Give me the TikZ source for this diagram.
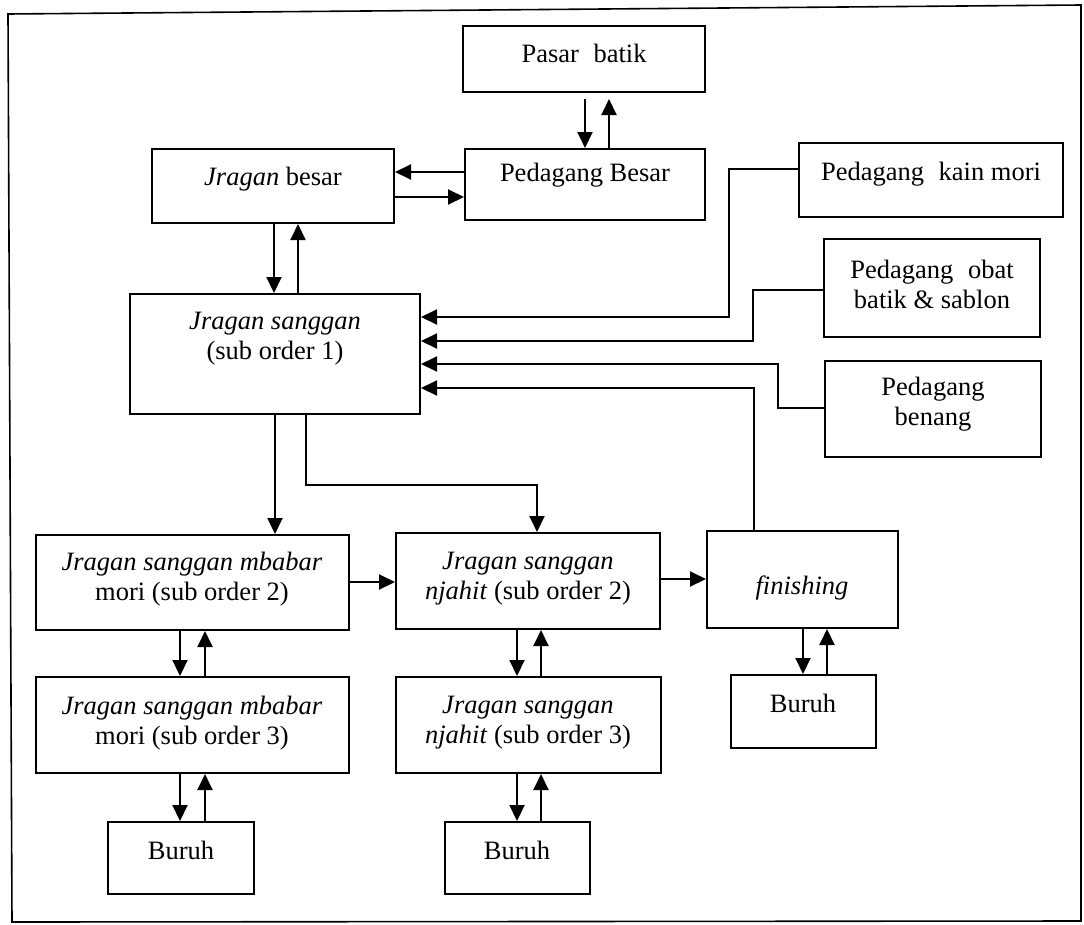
\documentclass[tikz,border=0pt]{standalone}
\usepackage{fontspec}
\setmainfont{Liberation Serif}
\usetikzlibrary{arrows.meta,fit}
\begin{document}
\begin{tikzpicture}[x=1pt,y=-1pt,
  box/.style={draw,line width=2pt,inner sep=0pt},
  txt/.style={align=center,font=\fontsize{26.5}{30}\selectfont,inner sep=0pt},
  arr/.style={line width=2pt,-{Triangle[length=16pt,width=15pt]}},
  ln/.style={line width=2pt}]
\useasboundingbox (0,0) rectangle (1084,924);
% outer frame
\draw[line width=1.6pt] (8,14) -- (1081,5) -- (1081,921) -- (12,922) -- cycle;

% boxes
\node[box,fit={(463,26) (705,92)}] (pasar) {};
\node[box,fit={(465,149) (705,220)}] (pb) {};
\node[box,fit={(152,149) (394,223)}] (jb) {};
\node[box,fit={(799,143) (1063,217)}] (km) {};
\node[box,fit={(824,239) (1040,337)}] (ob) {};
\node[box,fit={(825,361) (1041,457)}] (bn) {};
\node[box,fit={(130,294) (420,414)}] (js) {};
\node[box,fit={(36,535) (349,630)}] (mb2) {};
\node[box,fit={(396,533) (660,629)}] (nj2) {};
\node[box,fit={(707,531) (898,628)}] (fin) {};
\node[box,fit={(36,677) (349,773)}] (mb3) {};
\node[box,fit={(396,677) (661,773)}] (nj3) {};
\node[box,fit={(108,822) (254,894)}] (bu1) {};
\node[box,fit={(445,822) (590,894)}] (bu2) {};
\node[box,fit={(731,675) (876,748)}] (bu3) {};

% texts
\node[txt] (pasar-t) at (584,53) {Pasar\hspace{0.3em} batik};
\node[txt] (pb-t) at (585,175) {Pedagang Besar};
\node[txt] (jb-t) at (273,179) {\textit{Jragan} besar};
\node[txt] (km-t) at (931,174) {Pedagang\hspace{0.3em} kain mori};
\node[txt] (ob-t) at (932,284) {Pedagang\hspace{0.3em} obat\\batik \& sablon};
\node[txt] (bn-t) at (933,404) {Pedagang\\benang};
\node[txt] (js-t) at (275,339) {\textit{Jragan sanggan}\\(sub order 1)};
\node[txt] (mb2-t) at (192,579) {\textit{Jragan sanggan mbabar}\\mori (sub order 2)};
\node[txt] (nj2-t) at (528,579) {\textit{Jragan sanggan}\\\textit{njahit} (sub order 2)};
\node[txt] (fin-t) at (802,588) {\textit{finishing}};
\node[txt] (mb3-t) at (192,723) {\textit{Jragan sanggan mbabar}\\mori (sub order 3)};
\node[txt] (nj3-t) at (528,723) {\textit{Jragan sanggan}\\\textit{njahit} (sub order 3)};
\node[txt] (bu1-t) at (181,850) {Buruh};
\node[txt] (bu2-t) at (517,850) {Buruh};
\node[txt] (bu3-t) at (803,703) {Buruh};

% connectors
\draw[arr,shorten <=6pt] (585,0 |- pasar.south) -- (585,0 |- pb.north);
\draw[arr,shorten >=6pt] (609,0 |- pb.north) -- (609,0 |- pasar.south);
\draw[arr] (pb.west |- 0,172) -- (jb.east |- 0,172);
\draw[arr] (jb.east |- 0,197) -- (pb.west |- 0,197);
\draw[arr] (274,0 |- jb.south) -- (274,0 |- js.north);
\draw[arr] (298,0 |- js.north) -- (298,0 |- jb.south);

\draw[arr] (km.west |- 0,169) -| (729,317) -- (js.east |- 0,317);
\draw[arr] (ob.west |- 0,290) -| (753,341) -- (js.east |- 0,341);
\draw[arr] (bn.west |- 0,408) -| (778,364) -- (js.east |- 0,364);
\draw[arr] (754,0 |- fin.north) |- (js.east |- 0,388);

\draw[arr] (275,0 |- js.south) -- (275,0 |- mb2.north);
\draw[arr] (306,0 |- js.south) |- (537,485) -- (537,0 |- nj2.north);
\draw[arr] (mb2.east |- 0,582) -- (nj2.west |- 0,582);
\draw[arr] (nj2.east |- 0,579) -- (fin.west |- 0,579);

\draw[arr] (180,0 |- mb2.south) -- (180,0 |- mb3.north);
\draw[arr] (205,0 |- mb3.north) -- (205,0 |- mb2.south);
\draw[arr] (180,0 |- mb3.south) -- (180,0 |- bu1.north);
\draw[arr] (205,0 |- bu1.north) -- (205,0 |- mb3.south);

\draw[arr] (517,0 |- nj2.south) -- (517,0 |- nj3.north);
\draw[arr] (541,0 |- nj3.north) -- (541,0 |- nj2.south);
\draw[arr] (517,0 |- nj3.south) -- (517,0 |- bu2.north);
\draw[arr] (541,0 |- bu2.north) -- (541,0 |- nj3.south);

\draw[arr] (803,0 |- fin.south) -- (803,0 |- bu3.north);
\draw[arr] (827,0 |- bu3.north) -- (827,0 |- fin.south);
\end{tikzpicture}
\end{document}
